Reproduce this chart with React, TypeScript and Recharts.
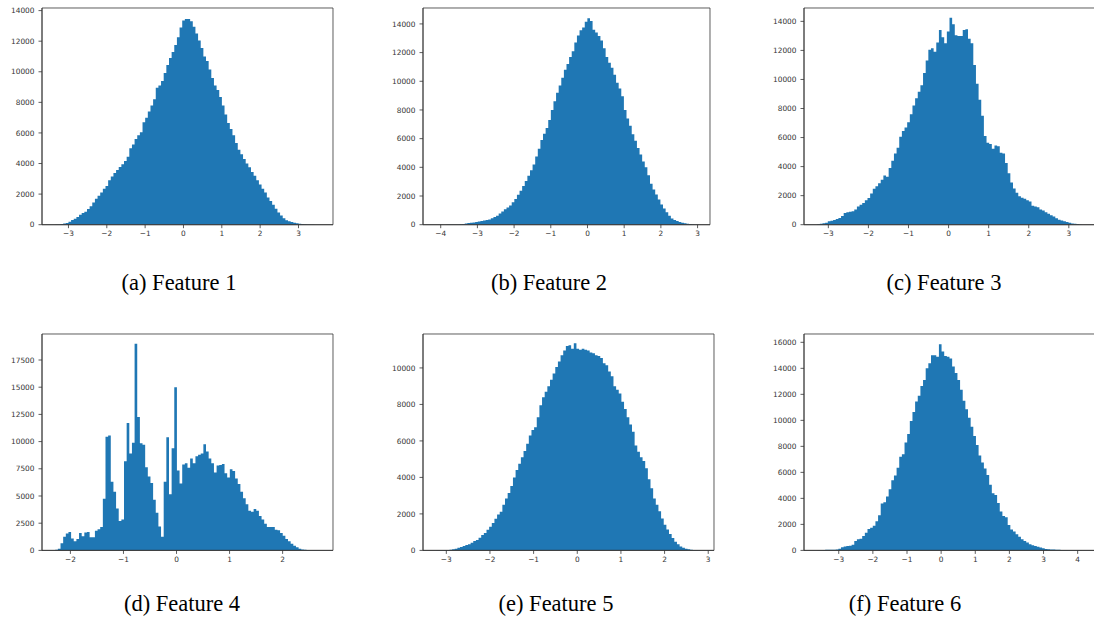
import { ComposedChart, Area, XAxis, YAxis, ReferenceArea } from "recharts";

// Six histograms, 100 bins each. Bins start at featureNStart and are featureNBin wide.
const feature1Start = -3.345;
const feature1Bin = 0.069;
const feature1Counts = [
  10, 20, 50, 70, 110, 200, 300, 390, 510, 650,
  770, 850, 1020, 1200, 1450, 1700, 1900, 2110, 2350, 2530,
  2900, 3150, 3380, 3580, 3770, 3950, 4160, 4440, 5000, 5250,
  5600, 5850, 6050, 6700, 7000, 7400, 7800, 8200, 8950, 9100,
  9400, 9920, 10450, 10900, 11300, 11750, 12250, 12900, 13350, 13450,
  13450, 13300, 12950, 12500, 12050, 11550, 11000, 10700, 10150, 9600,
  9100, 8800, 8350, 7800, 7200, 6650, 6250, 5850, 5350, 4900,
  4600, 4300, 4000, 3750, 3450, 3200, 2900, 2620, 2350, 2100,
  1780, 1550, 1300, 1050, 800, 600, 420, 290, 230, 170,
  130, 90, 65, 45, 25, 15, 8, 5, 3, 2,
];
const feature1XTicks = [-3, -2, -1, 0, 1, 2, 3];
const feature1YTicks = [0, 2000, 4000, 6000, 8000, 10000, 12000, 14000];
const feature1YMax = 14170;

const feature2Start = -4.127;
const feature2Bin = 0.0711;
const feature2Counts = [
  1, 2, 3, 4, 5, 6, 8, 12, 18, 30,
  50, 80, 110, 135, 160, 185, 220, 260, 290, 320,
  360, 450, 540, 630, 780, 920, 1080, 1200, 1330, 1560,
  1800, 2090, 2370, 2700, 3050, 3420, 3800, 4200, 4750, 5300,
  5900, 6350, 6750, 7300, 8000, 8600, 9200, 9700, 10250, 10800,
  11200, 11700, 12100, 12700, 13200, 13550, 13750, 14150, 14400, 14200,
  13600, 13400, 13150, 12850, 12300, 11700, 11300, 10950, 10450, 9900,
  9500, 8950, 8000, 7400, 6900, 6300, 5850, 5350, 4900, 4400,
  4000, 3450, 2850, 2450, 2100, 1750, 1400, 1130, 860, 620,
  430, 320, 250, 180, 140, 100, 70, 45, 25, 12,
];
const feature2XTicks = [-4, -3, -2, -1, 0, 1, 2, 3];
const feature2YTicks = [0, 2000, 4000, 6000, 8000, 10000, 12000, 14000];
const feature2YMax = 15110;

const feature3Start = -3.277;
const feature3Bin = 0.066;
const feature3Counts = [
  30, 60, 100, 140, 230, 270, 330, 390, 460, 600,
  800, 860, 890, 920, 1050, 1260, 1380, 1500, 1680, 1830,
  2150, 2480, 2650, 2850, 3100, 3380, 3300, 3900, 4400, 4900,
  5300, 6050, 6450, 6700, 7050, 7600, 8200, 8700, 9150, 9600,
  10450, 11300, 12050, 12150, 11900, 12550, 13400, 12900, 12500, 13300,
  14250, 13800, 13050, 13000, 13000, 13400, 13450, 12800, 12500, 11000,
  9700, 8600, 7500, 6100, 5650, 5550, 5230, 5450, 5400, 4950,
  4900, 4250, 3550, 2900, 2500, 2200, 1950, 1850, 1780, 1680,
  1600, 1300, 1250, 1200, 1050, 980, 850, 750, 650, 560,
  450, 340, 280, 230, 180, 130, 90, 60, 40, 20,
];
const feature3XTicks = [-3, -2, -1, 0, 1, 2, 3];
const feature3YTicks = [0, 2000, 4000, 6000, 8000, 10000, 12000, 14000];
const feature3YMax = 14920;

const feature4Start = -2.286;
const feature4Bin = 0.04986;
const feature4Counts = [
  50, 150, 650, 1250, 1550, 1700, 1100, 850, 1050, 1600,
  1300, 1650, 1700, 1200, 1200, 1800, 1950, 2150, 4750, 10450,
  10550, 6300, 5400, 3850, 2700, 2850, 8200, 11700, 8900, 9900,
  19000, 12250, 9850, 9700, 7650, 6800, 6200, 4650, 3450, 2200,
  1250, 6300, 10400, 5150, 9400, 15000, 7350, 6150, 7900, 8000,
  7600, 8450, 8000, 8650, 8800, 8900, 9750, 9100, 8450, 8000,
  7150, 7800, 7850, 7950, 7100, 6700, 7450, 7300, 6600, 6100,
  5400, 4800, 4250, 3650, 3550, 3800, 3650, 3150, 2850, 2450,
  2150, 2150, 2150, 1900, 1850, 1600, 1350, 1050, 830, 600,
  420, 280, 160, 90, 60, 35, 20, 10, 5, 2,
];
const feature4XTicks = [-2, -1, 0, 1, 2];
const feature4YTicks = [0, 2500, 5000, 7500, 10000, 12500, 15000, 17500];
const feature4YMax = 19890;

const feature5Start = -3.231;
const feature5Bin = 0.0606;
const feature5Counts = [
  3, 5, 8, 15, 25, 35, 60, 90, 140, 180,
  240, 290, 340, 420, 510, 570, 690, 840, 960, 1130,
  1300, 1500, 1740, 1970, 2120, 2500, 2850, 3150, 3530, 4000,
  4400, 4750, 5100, 5450, 5850, 6300, 6600, 6750, 7300, 7950,
  8400, 8700, 9000, 9350, 9700, 10050, 10350, 10700, 10950, 11200,
  11250, 11050, 11350, 11050, 11000, 11050, 11000, 10950, 10850, 10800,
  10700, 10650, 10550, 10250, 10150, 9800, 9550, 9000, 8800, 8600,
  8150, 7750, 7300, 6900, 6500, 5750, 5400, 5100, 4900, 4500,
  3900, 3400, 2850, 2500, 2150, 1750, 1400, 1150, 900, 680,
  480, 330, 220, 150, 90, 60, 40, 25, 15, 8,
];
const feature5XTicks = [-3, -2, -1, 0, 1, 2, 3];
const feature5YTicks = [0, 2000, 4000, 6000, 8000, 10000];
const feature5YMax = 11860;

const feature6Start = -3.63;
const feature6Bin = 0.0775;
const feature6Counts = [
  5, 10, 25, 40, 50, 55, 55, 60, 130, 240,
  300, 330, 360, 430, 720, 850, 900, 1100, 1350, 1650,
  1750, 1900, 2250, 2700, 3600, 3700, 4150, 4700, 5400, 5750,
  6350, 7200, 7400, 8300, 8950, 9950, 10650, 11450, 11900, 12650,
  13100, 14000, 14400, 15000, 15000, 14900, 15850, 15300, 14950, 14900,
  14750, 14150, 13650, 13100, 12350, 11500, 10850, 10200, 9500, 8800,
  8100, 7300, 6750, 6300, 5800, 5050, 4400, 4250, 3650, 3000,
  2650, 2550, 1950, 1600, 1450, 1250, 1050, 850, 720, 600,
  480, 400, 330, 280, 220, 160, 110, 90, 70, 60,
  50, 45, 35, 30, 25, 20, 8, 5, 3, 2,
];
const feature6XTicks = [-3, -2, -1, 0, 1, 2, 3, 4];
const feature6YTicks = [0, 2000, 4000, 6000, 8000, 10000, 12000, 14000, 16000];
const feature6YMax = 16640;

const captions = [
  "(a) Feature 1",
  "(b) Feature 2",
  "(c) Feature 3",
  "(d) Feature 4",
  "(e) Feature 5",
  "(f) Feature 6",
];

const features = [
  { start: feature1Start, bin: feature1Bin, counts: feature1Counts, xTicks: feature1XTicks, yTicks: feature1YTicks, yMax: feature1YMax },
  { start: feature2Start, bin: feature2Bin, counts: feature2Counts, xTicks: feature2XTicks, yTicks: feature2YTicks, yMax: feature2YMax },
  { start: feature3Start, bin: feature3Bin, counts: feature3Counts, xTicks: feature3XTicks, yTicks: feature3YTicks, yMax: feature3YMax },
  { start: feature4Start, bin: feature4Bin, counts: feature4Counts, xTicks: feature4XTicks, yTicks: feature4YTicks, yMax: feature4YMax },
  { start: feature5Start, bin: feature5Bin, counts: feature5Counts, xTicks: feature5XTicks, yTicks: feature5YTicks, yMax: feature5YMax },
  { start: feature6Start, bin: feature6Bin, counts: feature6Counts, xTicks: feature6XTicks, yTicks: feature6YTicks, yMax: feature6YMax },
];

// plot-area boxes and caption anchors (caption y = text baseline)
const layout = [
  { left: 42, top: 8.3, width: 291, height: 216.7, capX: 179, capY: 290.7 },
  { left: 423, top: 8.3, width: 287, height: 216.7, capX: 549, capY: 290.7 },
  { left: 804, top: 8.3, width: 291, height: 216.7, capX: 944, capY: 290.7 },
  { left: 42, top: 334.3, width: 291, height: 216.4, capX: 182, capY: 611.7 },
  { left: 423, top: 334.3, width: 291, height: 216.4, capX: 556, capY: 611.7 },
  { left: 804, top: 334.3, width: 291, height: 216.4, capX: 905, capY: 611.7 },
];

const AXIS_W = 45;
const PAD_T = 5;
const PAD_R = 5;
const XAXIS_H = 25;
const SPINE = "#333333";
const BLUE = "#1f77b4";

const tickStyle = { fontSize: 7.4, fill: "#333333", fontFamily: "'DejaVu Sans', sans-serif" };
const minus = (v: number) => String(v).replace("-", "\u2212");

function Histogram({ feature, box }: { feature: (typeof features)[number]; box: (typeof layout)[number] }) {
  const { start, bin, counts, xTicks, yTicks, yMax } = feature;
  const rows = counts.map((c, i) => ({ x: start + i * bin, count: c }));
  rows.push({ x: start + counts.length * bin, count: counts[counts.length - 1] });
  const lo = start;
  const hi = start + counts.length * bin;
  const pad = (hi - lo) * 0.05;
  const line = { stroke: SPINE, strokeWidth: 0.8 };

  return (
    <div style={{ position: "absolute", left: box.left - AXIS_W, top: box.top - PAD_T }}>
      <ComposedChart
        width={AXIS_W + box.width + PAD_R}
        height={PAD_T + box.height + XAXIS_H}
        data={rows}
        margin={{ top: PAD_T, right: PAD_R, bottom: 0, left: 0 }}
      >
        <XAxis
          dataKey="x"
          type="number"
          domain={[lo - pad, hi + pad]}
          allowDataOverflow
          ticks={xTicks}
          interval={0}
          tickFormatter={minus}
          tick={tickStyle}
          tickSize={3.5}
          tickMargin={3}
          height={XAXIS_H}
          axisLine={line}
          tickLine={line}
        />
        <YAxis
          type="number"
          domain={[0, yMax]}
          allowDataOverflow
          ticks={yTicks}
          interval={0}
          tick={tickStyle}
          tickSize={3.5}
          tickMargin={4}
          width={AXIS_W}
          axisLine={line}
          tickLine={line}
        />
        <Area
          type="stepAfter"
          dataKey="count"
          fill={BLUE}
          fillOpacity={1}
          stroke="none"
          dot={false}
          activeDot={false}
          isAnimationActive={false}
        />
        {/* full axes frame, as matplotlib draws all four spines */}
        <ReferenceArea
          x1={lo - pad}
          x2={hi + pad}
          y1={0}
          y2={yMax}
          fill="none"
          fillOpacity={0}
          stroke={SPINE}
          strokeWidth={0.8}
          ifOverflow="visible"
        />
      </ComposedChart>
    </div>
  );
}

export default function App() {
  return (
    <div
      style={{
        position: "absolute",
        left: 0,
        top: 0,
        width: 1094,
        height: 627,
        overflow: "hidden",
        background: "#ffffff",
      }}
    >
      {features.map((f, i) => (
        <Histogram key={captions[i]} feature={f} box={layout[i]} />
      ))}
      {captions.map((c, i) => (
        <div
          key={c}
          style={{
            position: "absolute",
            left: layout[i].capX,
            top: layout[i].capY - 18.8,
            transform: "translateX(-50%)",
            fontFamily: "'Liberation Serif', serif",
            fontSize: 22.5,
            lineHeight: "22.5px",
            whiteSpace: "nowrap",
            color: "#000000",
          }}
        >
          {c}
        </div>
      ))}
    </div>
  );
}
